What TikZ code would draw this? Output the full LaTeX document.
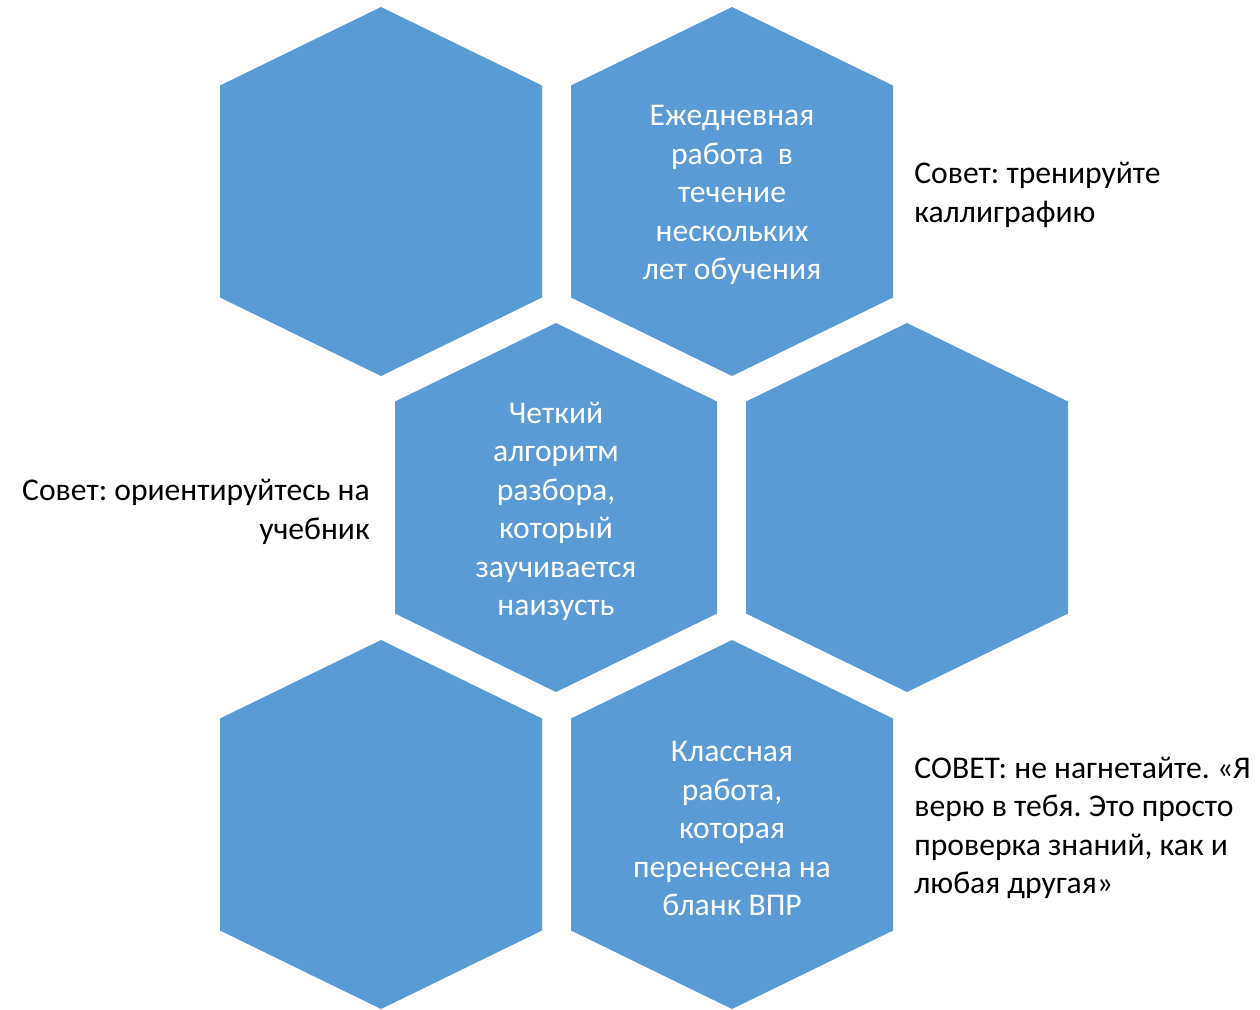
\documentclass[tikz,border=0pt]{standalone}
\usepackage{fontspec}
\setmainfont{Carlito}
\usetikzlibrary{calc}
\definecolor{hexblue}{HTML}{5B9BD5}
\frenchspacing

\tikzset{
  hextext/.style={text=white, align=center, font=\fontsize{18}{21.9}\selectfont},
  tiptext/.style={text=black, font=\fontsize{18}{21.9}\selectfont, inner sep=0pt}
}

\begin{document}
\begin{tikzpicture}[x=0.02cm, y=-0.02cm]
\useasboundingbox (0,0) rectangle (1260,1009);
\foreach \cx/\cy in {381/191.5, 732/191.5, 556/507.5, 907/507.5, 381/824.5, 732/824.5}{
	\fill[hexblue] (\cx,\cy-184.5) -- (\cx+161,\cy-106) -- (\cx+161,\cy+106)
		-- (\cx,\cy+184.5) -- (\cx-161,\cy+106) -- (\cx-161,\cy-106) -- cycle;
	}
\node[hextext] (daily) at (732,195) {Ежедневная\\работа~ в\\течение\\нескольких\\лет обучения};
\node[hextext] (algo) at (556,511.5) {Четкий\\алгоритм\\разбора,\\который\\заучивается\\наизусть};
\node[hextext] (class) at (732,828.5) {Классная\\работа,\\которая\\перенесена на\\бланк ВПР};
%\node at (381,191.5){};
\node[tiptext, anchor=west, align=left] (tip1) at (914,195) {Совет: тренируйте\\каллиграфию};
\node[tiptext, anchor=east, align=right] (tip2) at (370,512) {Совет: ориентируйтесь на\\учебник};
\node[tiptext, anchor=west, align=left] (tip3) at (914,828) {СОВЕТ: не нагнетайте. «Я\\верю в тебя. Это просто\\проверка знаний, как и\\любая другая»};
\end{tikzpicture}
\end{document}
